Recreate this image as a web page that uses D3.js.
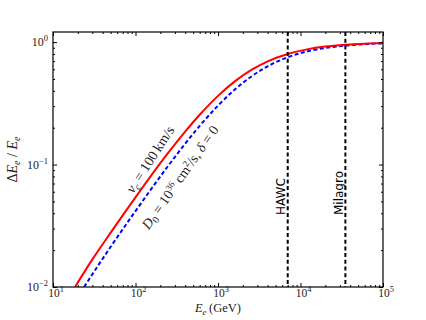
<!DOCTYPE html>
<html>
<head>
<meta charset="utf-8">
<script src="https://cdn.jsdelivr.net/npm/d3@7"></script>
<style>
  body { margin: 0; background: #fff; }
  svg text { font-family: "Liberation Serif", "DejaVu Serif", serif; fill: #222; }
  .sans { font-family: "DejaVu Sans", "Liberation Sans", sans-serif; }
  .axis path, .axis line { stroke: #000; }
</style>
</head>
<body>
<svg id="chart" width="426" height="320"></svg>
<script>
// energies (GeV) and energy-loss fraction
var redE   = [18.5, 30, 50, 100, 150, 250, 400, 600, 1000, 1600, 2600, 4000, 7000, 12000, 20000, 35000, 60000, 100000];
var redVal = [0.01, 0.0168, 0.0278, 0.054, 0.079, 0.125, 0.186, 0.255, 0.364, 0.478, 0.598, 0.696, 0.80, 0.873, 0.92, 0.952, 0.972, 0.983];
var blueE   = [23.8, 50, 100, 150, 250, 400, 600, 1000, 1600, 2600, 4000, 7000, 12000, 20000, 35000, 60000, 100000];
var blueVal = [0.01, 0.0213, 0.0417, 0.0612, 0.098, 0.148, 0.207, 0.303, 0.41, 0.53, 0.635, 0.753, 0.839, 0.897, 0.938, 0.963, 0.978];

var experiments = ["HAWC", "Milagro"];
var expEnergy = [7000, 35000];

var xMajor = [10, 100, 1000, 10000, 100000];
var xExp = ["1", "2", "3", "4", "5"];
var yMajor = [0.01, 0.1, 1];
var yExp = ["\u22122", "\u22121", "0"];

var svg = d3.select("#chart");
var padding = { top: 32, right: 43, bottom: 33, left: 53 };
var width = +svg.attr("width");
var height = +svg.attr("height");

var xScale = d3.scaleLog()
               .domain([10, 1e5])
               .range([padding.left, width - padding.right]);

var yScale = d3.scaleLog()
               .domain([0.01, 1.21])
               .range([height - padding.bottom, padding.top]);

// minor ticks 2..9 of every decade
var xMinor = [];
for (var d = 10; d < 1e5; d *= 10) {
  for (var k = 2; k < 10; k++) xMinor.push(d * k);
}
var yMinor = [];
for (var d2 = 0.01; d2 < 1.2; d2 *= 10) {
  for (var k2 = 2; k2 < 10; k2++) if (d2 * k2 < 1.21) yMinor.push(d2 * k2);
}

svg.append("defs").append("clipPath")
    .attr("id", "plot-clip")
  .append("rect")
    .attr("x", padding.left)
    .attr("y", padding.top)
    .attr("width", width - padding.left - padding.right)
    .attr("height", height - padding.top - padding.bottom);

var plot = svg.append("g").attr("clip-path", "url(#plot-clip)");

var line = d3.line()
             .x(d => xScale(d[0]))
             .y(d => yScale(d[1]))
             .curve(d3.curveMonotoneX);

plot.append("path")
    .datum(blueE.map((e, i) => [e, blueVal[i]]))
    .attr("d", line)
    .attr("fill", "none")
    .attr("stroke", "#0000ff")
    .attr("stroke-width", 2)
    .attr("stroke-dasharray", "4,2.5");

plot.append("path")
    .datum(redE.map((e, i) => [e, redVal[i]]))
    .attr("d", line)
    .attr("fill", "none")
    .attr("stroke", "#ff0000")
    .attr("stroke-width", 2);

// vertical experiment lines
plot.selectAll(".exp-line")
    .data(expEnergy)
  .enter().append("line")
    .classed("exp-line", true)
    .attr("x1", d => xScale(d))
    .attr("x2", d => xScale(d))
    .attr("y1", padding.top)
    .attr("y2", height - padding.bottom)
    .attr("stroke", "#000")
    .attr("stroke-width", 2)
    .attr("stroke-dasharray", "4,2.7");

svg.selectAll(".exp-label")
    .data(experiments)
  .enter().append("text")
    .classed("exp-label sans", true)
    .attr("transform", (d, i) => "translate(" + (xScale(expEnergy[i]) - 2.5) + "," + 215 + ") rotate(-90)")
    .attr("font-size", 12)
    .style("fill", "#000")
    .text(d => d);

// axes: ticks point inward on all four sides
function drawAxis(axisFn, scale, values, size, transform) {
  svg.append("g")
      .classed("axis", true)
      .attr("transform", transform)
      .call(axisFn(scale).tickValues(values).tickSize(-size).tickFormat(""))
      .call(g => g.select(".domain").remove());
}
var bottomY = height - padding.bottom;
var rightX = width - padding.right;
drawAxis(d3.axisBottom, xScale, xMajor, 4, "translate(0," + bottomY + ")");
drawAxis(d3.axisBottom, xScale, xMinor, 2, "translate(0," + bottomY + ")");
drawAxis(d3.axisTop, xScale, xMajor, 4, "translate(0," + padding.top + ")");
drawAxis(d3.axisTop, xScale, xMinor, 2, "translate(0," + padding.top + ")");
drawAxis(d3.axisLeft, yScale, yMajor, 4, "translate(" + padding.left + ",0)");
drawAxis(d3.axisLeft, yScale, yMinor, 2, "translate(" + padding.left + ",0)");
drawAxis(d3.axisRight, yScale, yMajor, 4, "translate(" + rightX + ",0)");
drawAxis(d3.axisRight, yScale, yMinor, 2, "translate(" + rightX + ",0)");

svg.append("rect")
    .attr("x", padding.left)
    .attr("y", padding.top)
    .attr("width", rightX - padding.left)
    .attr("height", bottomY - padding.top)
    .attr("fill", "none")
    .attr("stroke", "#000")
    .attr("stroke-width", 1.2);

// tick labels 10^n
function powerLabel(sel, exp) {
  sel.append("tspan").text("10");
  sel.append("tspan").attr("dy", -5).attr("font-size", 8.5).text(exp);
}

svg.selectAll(".x-label")
    .data(xMajor)
  .enter().append("text")
    .classed("x-label", true)
    .attr("x", d => xScale(d) + 3)
    .attr("y", bottomY + 10)
    .attr("font-size", 11.5)
    .attr("text-anchor", "middle")
    .each(function(d, i) { powerLabel(d3.select(this), xExp[i]); });

svg.selectAll(".y-label")
    .data(yMajor)
  .enter().append("text")
    .classed("y-label", true)
    .attr("x", padding.left - 5)
    .attr("y", d => yScale(d) + 4)
    .attr("font-size", 12)
    .attr("text-anchor", "end")
    .each(function(d, i) { powerLabel(d3.select(this), yExp[i]); });

// axis titles
var xTitle = svg.append("text")
    .attr("x", xScale(1000))
    .attr("y", 312)
    .attr("font-size", 12.5)
    .attr("text-anchor", "middle");
xTitle.append("tspan").attr("font-style", "italic").text("E");
xTitle.append("tspan").attr("font-style", "italic").attr("font-size", 9).attr("dy", 2.5).text("e");
xTitle.append("tspan").attr("dy", -2.5).text("\u2009(GeV)");

var yTitle = svg.append("text")
    .attr("transform", "translate(17," + yScale(0.11) + ") rotate(-90)")
    .attr("font-size", 14)
    .attr("text-anchor", "middle");
yTitle.append("tspan").text("\u0394");
yTitle.append("tspan").attr("font-style", "italic").text("E");
yTitle.append("tspan").attr("font-style", "italic").attr("font-size", 10).attr("dy", 3).text("e");
yTitle.append("tspan").attr("dy", -3).text(" / ");
yTitle.append("tspan").attr("font-style", "italic").text("E");
yTitle.append("tspan").attr("font-style", "italic").attr("font-size", 10).attr("dy", 3).text("e");

// curve annotations
var t1 = svg.append("text")
    .attr("transform", "translate(154,162) rotate(-57)")
    .attr("font-size", 14)
    .attr("text-anchor", "middle");
t1.append("tspan").attr("font-style", "italic").text("v");
t1.append("tspan").attr("font-style", "italic").attr("font-size", 10).attr("dy", 3).text("c");
t1.append("tspan").attr("dy", -3).text(" = 100\u2009km/s");

var t2 = svg.append("text")
    .attr("transform", "translate(184,180) rotate(-55)")
    .attr("font-size", 14)
    .attr("text-anchor", "middle");
t2.append("tspan").attr("font-style", "italic").text("D");
t2.append("tspan").attr("font-size", 10).attr("dy", 3).text("0");
t2.append("tspan").attr("dy", -3).text(" = 10");
t2.append("tspan").attr("font-size", 9).attr("dy", -5).text("36");
t2.append("tspan").attr("dy", 5).text(" cm");
t2.append("tspan").attr("font-size", 9).attr("dy", -5).text("2");
t2.append("tspan").attr("dy", 5).text("/s, ");
t2.append("tspan").attr("font-style", "italic").text("\u03b4");
t2.append("tspan").text(" = 0");
</script>
</body>
</html>
